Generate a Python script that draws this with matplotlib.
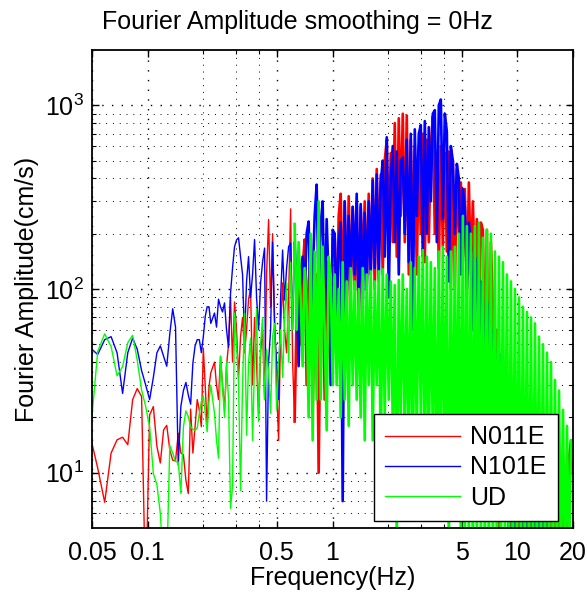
import numpy as np
import matplotlib.pyplot as plt

plt.rcParams['font.family'] = ['Liberation Sans', 'DejaVu Sans']
plt.rcParams['mathtext.fontset'] = 'custom'
plt.rcParams['mathtext.rm'] = 'Liberation Sans'

# frequency bins: true FFT bins at low frequency, then a thinned log grid
df = 0.00488
low_bins = np.arange(10, 46)
n_high = 180
freq = np.concatenate([low_bins * df, np.geomspace(0.23, 20, n_high)])

# N011E (red)
n011e_low = [16, 10.6, 6.9, 12.8, 15.1, 15.6, 14.2, 25, 28.7, 26,
             2, 20.6, 22.9, 13.9, 11.3, 17.1, 18.1, 13.3, 11.7, 11.6,
             16.4, 12.8, 12.5, 9.1, 7.7, 22.2, 12.8, 17.8, 25, 22,
             17.8, 47.6, 29.4, 17.8, 29.4, 35]
n011e_high = [40, 30, 25, 43, 30, 22, 38, 50, 90, 40,
              85, 60, 33, 55, 70, 45, 60, 88, 100, 30,
              70, 40, 20, 45, 60, 25, 120, 239, 80, 200,
              70, 30, 15, 60, 108, 60, 45, 90, 273, 40,
              19, 70, 160, 50, 130, 186, 30, 110, 150, 21,
              80, 120, 10, 90, 110, 25, 180, 50, 40, 190,
              200, 60, 250, 330, 90, 300, 70, 320, 100, 280,
              100, 300, 60, 280, 130, 300, 100, 330, 120, 400,
              100, 450, 150, 420, 120, 500, 650, 200, 550, 180,
              800, 150, 850, 250, 900, 180, 880, 120, 650, 200,
              600, 120, 600, 200, 700, 140, 650, 180, 600, 870,
              200, 500, 130, 600, 170, 550, 160, 560, 100, 500,
              100, 450, 200, 380, 150, 350, 90, 380, 120, 300,
              120, 240, 60, 230, 210, 40, 210, 20, 180, 80,
              10, 60, 3, 30, 8, 25, 6, 22, 5, 20,
              4, 18, 5, 15, 4, 12, 4, 11, 4, 10,
              4, 9, 4, 9, 4, 8, 4, 7, 4, 7,
              4, 7, 4, 7, 4, 8, 5, 12, 15, 10]

# N101E (blue)
n101e_low = [48, 44, 53, 55, 45, 27, 45, 54, 47, 36,
             30, 25, 33, 45, 49, 43, 38, 57, 78, 62,
             11, 23, 28, 31, 26.5, 23.6, 39.5, 49, 53, 53,
             45, 55, 71, 80, 80, 65]
n101e_high = [74, 62, 88, 80, 75, 84, 60, 48, 95, 130,
              170, 185, 190, 150, 120, 53, 110, 150, 90, 120,
              186, 90, 60, 108, 140, 167, 7, 40, 60, 180,
              60, 40, 25, 90, 163, 87, 130, 170, 178, 60,
              178, 100, 38, 120, 150, 90, 200, 233, 70, 110,
              250, 370, 90, 220, 300, 60, 240, 110, 30, 210,
              200, 70, 180, 230, 7, 300, 90, 250, 110, 280,
              120, 330, 70, 290, 80, 260, 100, 300, 120, 390,
              130, 420, 110, 380, 500, 150, 670, 90, 400, 600,
              180, 560, 120, 500, 520, 200, 650, 140, 700, 60,
              740, 250, 700, 780, 150, 820, 200, 760, 300, 900,
              940, 180, 1000, 1075, 240, 900, 720, 110, 600, 500,
              200, 480, 400, 120, 350, 280, 100, 230, 170, 60,
              150, 130, 40, 110, 90, 30, 85, 70, 20, 60,
              50, 12, 45, 40, 8, 35, 30, 4, 28, 25,
              4, 22, 20, 3, 16, 15, 3, 12, 10, 3,
              9, 8, 3, 7, 6, 3, 5.5, 4, 3, 4,
              3, 4, 3, 4, 3, 4, 3, 3, 4, 3]

# UD (green)
ud_low = [15.4, 45.7, 57, 48.6, 33.7, 37.8, 51, 56, 41, 28.2,
          22.9, 17.8, 9.9, 8.6, 6, 3, 3, 14.1, 12.8, 11.5,
          11.4, 7.7, 17.8, 21.7, 20.2, 17.8, 17.2, 17, 17.5, 21,
          24.4, 26.2, 21, 16.7, 24.4, 30]
ud_high = [21, 15, 12, 43, 30, 20, 40, 25, 6.4, 8.4,
           74, 50, 31, 8, 30, 74, 16, 40, 54, 15,
           40, 78, 19, 50, 70, 25, 47, 35, 21, 55,
           65, 22, 40, 60, 33, 70, 108, 40, 140, 60,
           226, 60, 180, 90, 38, 130, 80, 20, 200, 15,
           160, 25, 300, 25, 170, 60, 17, 150, 120, 30,
           120, 30, 100, 20, 140, 25, 110, 18, 130, 30,
           110, 25, 100, 20, 130, 15, 120, 30, 125, 15,
           110, 30, 125, 12, 128, 20, 120, 25, 110, 18,
           105, 4, 112, 20, 120, 15, 100, 12, 140, 10,
           130, 15, 150, 20, 163, 8, 150, 12, 140, 15,
           130, 6, 160, 10, 170, 10, 150, 4, 160, 6,
           170, 8, 200, 4, 250, 4, 220, 4, 200, 3,
           220, 4, 230, 4, 190, 3, 210, 3, 200, 3,
           160, 3, 150, 3, 140, 4, 120, 3, 110, 3,
           100, 3, 90, 3, 80, 3, 75, 3, 70, 3,
           65, 3, 55, 3, 50, 3, 45, 3, 40, 3,
           32, 3, 28, 3, 22, 3, 18, 3, 15, 12]

series = [
    ('N011E', n011e_low + n011e_high, (1, 0, 0)),
    ('N101E', n101e_low + n101e_high, (0, 0, 1)),
    ('UD', ud_low + ud_high, (0, 1, 0)),
]

x_ticks = [0.05, 0.1, 0.5, 1, 5, 10, 20]
x_tick_labels = ['0.05', '0.1', '0.5', '1', '5', '10', '20']
x_minor = [0.2, 0.3, 0.4, 2, 3, 4]
y_ticks = [10, 100, 1000]
y_tick_labels = [r'$\mathregular{10^{1}}$', r'$\mathregular{10^{2}}$', r'$\mathregular{10^{3}}$']
y_minor = [6, 7, 8, 9] + [m * d for d in (10, 100) for m in range(2, 10)]

fs = 18
split = 76  # above ~0.6 Hz the spectrum is a dense band, drawn a bit heavier
fig = plt.figure(figsize=(5.87, 5.97), dpi=100)
ax = fig.add_axes([92 / 587, 69 / 597, 481 / 587, 478 / 597])

for name, amp, col in series:
    amp = np.asarray(amp, dtype=float)
    ax.plot(freq[:split + 1], amp[:split + 1], color=col, lw=1.0, label=name)
    ax.plot(freq[split:], amp[split:], color=col, lw=1.9)

ax.set_xscale('log')
ax.set_yscale('log')

ax.set_xticks(x_ticks)
ax.set_xticklabels(x_tick_labels)
ax.set_xticks(x_minor, minor=True)
ax.set_xticklabels([], minor=True)
ax.set_yticks(y_ticks)
ax.set_yticklabels(y_tick_labels)
ax.set_yticks(y_minor, minor=True)
ax.set_yticklabels([], minor=True)
ax.set_xlim(0.05, 20)
ax.set_ylim(5, 2000)

ax.tick_params(which='both', direction='in', top=True, right=True, labelsize=fs)
ax.tick_params(which='major', length=5, width=1)
ax.tick_params(which='minor', length=3, width=0.8)
ax.tick_params(axis='x', which='major', pad=9)
ax.tick_params(axis='y', which='major', pad=6)

ax.set_axisbelow(True)
ax.grid(True, which='major', color='k', ls=(0, (1, 6)), lw=1.0)
ax.grid(True, which='minor', color='k', ls=(0, (1, 6)), lw=0.7)
for sp in ax.spines.values():
    sp.set_linewidth(1.3)

ax.set_xlabel('Frequency(Hz)', fontsize=fs, va='center')
ax.xaxis.set_label_coords(0.5, (528 - 578) / 478)
ax.set_ylabel('Fourier Amplitude(cm/s)', fontsize=fs, va='center')
ax.yaxis.set_label_coords((27 - 92) / 481, 0.5)

fig.text(297 / 587, 1 - 22 / 597, 'Fourier Amplitude smoothing = 0Hz',
         ha='center', va='center', fontsize=fs)

leg = ax.legend(loc='upper left', bbox_to_anchor=(374 / 587, 1 - 414 / 597),
                bbox_transform=fig.transFigure, fancybox=False, framealpha=1,
                edgecolor='k', borderaxespad=0, handlelength=3.0,
                handletextpad=0.4, labelspacing=0.25, borderpad=0.45, fontsize=fs)
leg.get_frame().set_linewidth(1.0)

fig.savefig('out.png', dpi=100)
